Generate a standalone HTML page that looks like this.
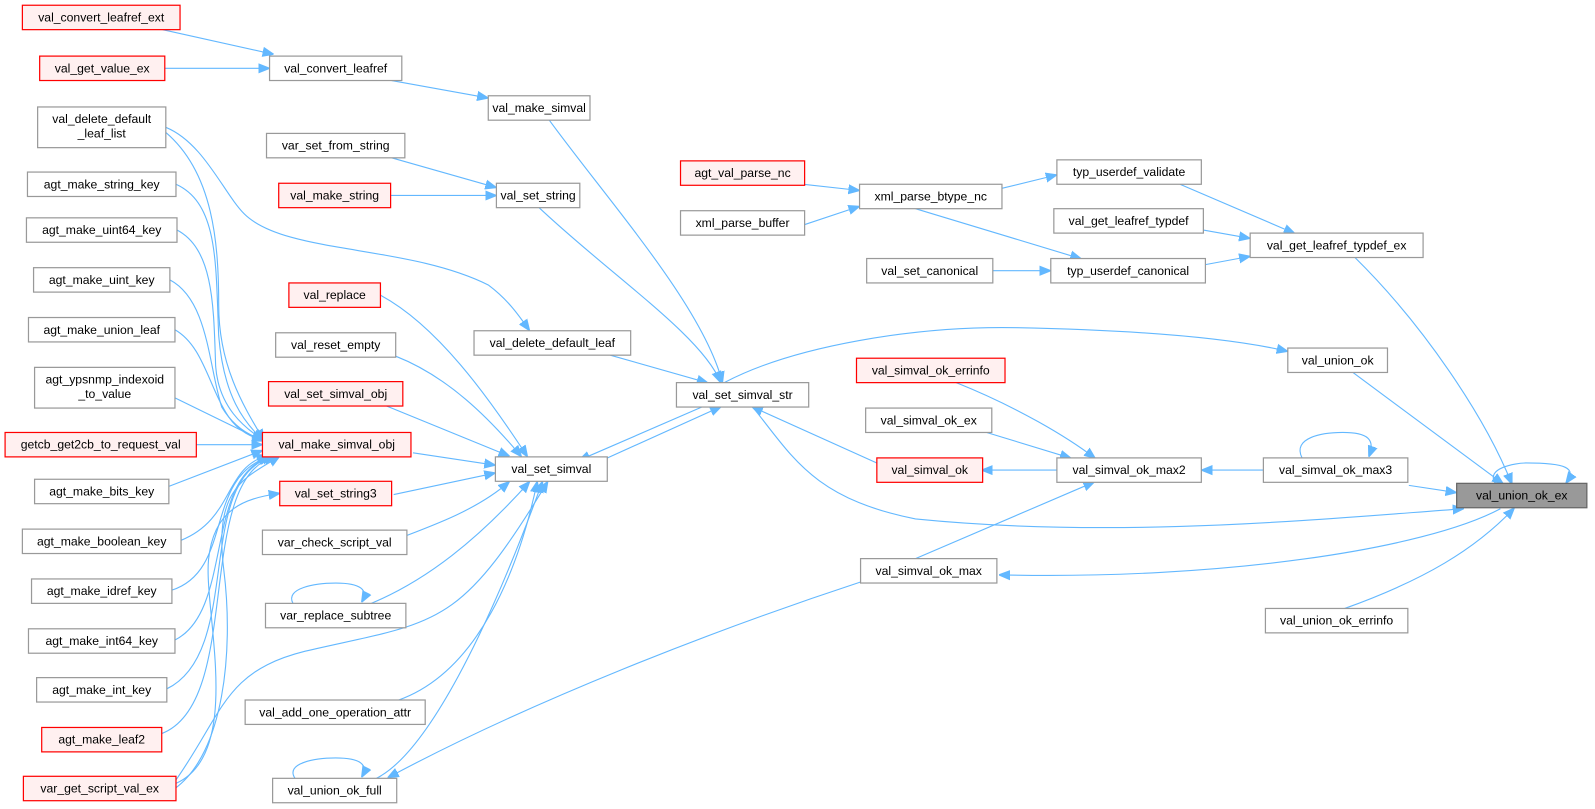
<!DOCTYPE html>
<html><head><meta charset="utf-8"><style>
html,body{margin:0;padding:0;background:#fff;}
svg{display:block}
text{font-family:"Liberation Sans",Arial,sans-serif;font-size:12px;fill:#000;text-anchor:middle}
.n{fill:#fff;stroke:#999;stroke-width:1.2}
.r{fill:#fff0f0;stroke:#f00;stroke-width:1.2}
.g{fill:#999;stroke:#666;stroke-width:1.2}
.e{fill:none;stroke:#63b8ff;stroke-width:1.1}
</style></head><body>
<svg width="1595" height="809" viewBox="0 0 1568 795" xmlns="http://www.w3.org/2000/svg">
<defs><marker id="a" viewBox="0 0 10 10" refX="9" refY="5" markerWidth="11" markerHeight="11" markerUnits="userSpaceOnUse" orient="auto"><path d="M0,1 L10,5 L0,9 z" fill="#63b8ff" stroke="#63b8ff"/></marker></defs>
<g class="e" marker-end="url(#a)">
<path d="M160,29 L268,53"/>
<path d="M162,67 L264,67"/>
<path d="M385,79 L479,96"/>
<path d="M540,118 C600,200 690,300 710,375"/>
<path d="M385,155 L487,184"/>
<path d="M384,192 L487,192"/>
<path d="M530,204 C600,270 690,330 708,375"/>
<path d="M163,125 C200,140 220,190 240,210 C280,250 400,240 480,280 C500,295 510,310 520,324"/>
<path d="M600,349 L695,376"/>
<path d="M690,400 L570,452"/>
<path d="M575,460 L708,400"/>
<path d="M374,290 C430,320 480,390 518,448"/>
<path d="M389,350 C440,370 480,410 512,448"/>
<path d="M380,399 L500,448"/>
<path d="M406,445 L486,457"/>
<path d="M387,486 L486,465"/>
<path d="M390,530 C430,515 470,500 500,474"/>
<path d="M365,593 C420,570 470,530 520,474"/>
<path d="M392,688 C470,660 510,560 528,474"/>
<path d="M370,765 C420,740 480,620 533,474"/>
<path d="M172,768 C220,700 220,660 300,640 C430,610 450,620 538,474"/>
<path d="M163,130 C210,170 215,240 215,300 C215,360 240,400 259,432"/>
<path d="M173,181 C215,200 212,260 215,330 C220,390 240,415 258,432"/>
<path d="M174,226 C210,245 210,300 212,360 C215,400 240,420 258,432"/>
<path d="M167,275 C205,295 205,360 218,400 C230,420 245,428 258,432"/>
<path d="M172,324 C200,340 205,380 225,410 C235,425 250,430 258,433"/>
<path d="M172,391 L258,433"/>
<path d="M193,437 L257,437"/>
<path d="M166,478 L257,443"/>
<path d="M178,531 C230,510 220,460 262,448"/>
<path d="M169,580 C230,560 200,470 264,449"/>
<path d="M172,629 C230,600 200,470 265,449"/>
<path d="M164,677 C240,640 190,470 268,449"/>
<path d="M159,721 C240,690 190,470 270,449"/>
<path d="M173,770 C240,740 200,600 205,550 C210,500 240,490 274,485"/>
<path d="M172,775 C220,740 230,640 220,560 C210,480 240,470 274,449"/>
<path d="M862,455 L740,400"/>
<path d="M790,181 L844,187"/>
<path d="M790,221 L844,203"/>
<path d="M985,185 L1038,172"/>
<path d="M900,205 L1062,254"/>
<path d="M975,266 L1032,266"/>
<path d="M1160,181 L1272,229"/>
<path d="M1183,226 L1228,234"/>
<path d="M1185,260 L1228,252"/>
<path d="M1332,253 C1400,320 1460,410 1486,475"/>
<path d="M1330,366 L1477,475"/>
<path d="M712,376 C780,340 900,320 1000,322 C1100,324 1200,330 1265,345"/>
<path d="M940,376 C1000,400 1050,430 1076,450"/>
<path d="M970,425 L1052,450"/>
<path d="M1039,462 L966,462"/>
<path d="M1242,462 L1182,462"/>
<path d="M1385,477 L1431,484"/>
<path d="M740,400 C780,450 800,490 900,510 C1100,530 1300,510 1438,500"/>
<path d="M1475,500 C1400,540 1200,570 983,565"/>
<path d="M900,549 L1075,474"/>
<path d="M846,572 C700,620 520,690 382,764"/>
<path d="M1322,598 C1400,570 1450,540 1488,500"/>
<path d="M1280,450 C1270,430 1300,425 1320,425 C1345,425 1352,432 1346,448"/>
<path d="M1470,475 C1460,460 1490,455 1500,455 C1540,455 1550,460 1540,474"/>
<path d="M290,765 C280,750 310,745 330,745 C355,745 362,752 356,763"/>
<path d="M288,593 C280,578 310,573 330,573 C355,573 362,580 356,591"/>
</g>
<g>
<rect class="r" x="22" y="5" width="155" height="24"/><text x="99.5" y="21">val_convert_leafref_ext</text>
<rect class="r" x="39" y="55" width="123" height="24"/><text x="100.5" y="71">val_get_value_ex</text>
<rect class="n" x="265" y="55" width="130" height="24"/><text x="330" y="71">val_convert_leafref</text>
<rect class="n" x="37" y="105" width="126" height="40"/><text x="100" y="121">val_delete_default</text><text x="100" y="135">_leaf_list</text>
<rect class="n" x="27" y="169" width="146" height="24"/><text x="100" y="185">agt_make_string_key</text>
<rect class="n" x="26" y="214" width="148" height="24"/><text x="100" y="230">agt_make_uint64_key</text>
<rect class="n" x="33" y="263" width="134" height="24"/><text x="100" y="279">agt_make_uint_key</text>
<rect class="n" x="28" y="312" width="144" height="24"/><text x="100" y="328">agt_make_union_leaf</text>
<rect class="n" x="34" y="361" width="138" height="40"/><text x="103" y="377">agt_ypsnmp_indexoid</text><text x="103" y="391">_to_value</text>
<rect class="r" x="5" y="425" width="188" height="24"/><text x="99" y="441">getcb_get2cb_to_request_val</text>
<rect class="n" x="34" y="471" width="132" height="24"/><text x="100" y="487">agt_make_bits_key</text>
<rect class="n" x="22" y="520" width="156" height="24"/><text x="100" y="536">agt_make_boolean_key</text>
<rect class="n" x="31" y="569" width="138" height="24"/><text x="100" y="585">agt_make_idref_key</text>
<rect class="n" x="28" y="618" width="144" height="24"/><text x="100" y="634">agt_make_int64_key</text>
<rect class="n" x="36" y="666" width="128" height="24"/><text x="100" y="682">agt_make_int_key</text>
<rect class="r" x="41" y="715" width="118" height="24"/><text x="100" y="731">agt_make_leaf2</text>
<rect class="r" x="23" y="763" width="150" height="24"/><text x="98" y="779">var_get_script_val_ex</text>
<rect class="n" x="480" y="94" width="100" height="24"/><text x="530" y="110">val_make_simval</text>
<rect class="n" x="262" y="131" width="136" height="24"/><text x="330" y="147">var_set_from_string</text>
<rect class="r" x="274" y="180" width="110" height="24"/><text x="329" y="196">val_make_string</text>
<rect class="n" x="488" y="180" width="82" height="24"/><text x="529" y="196">val_set_string</text>
<rect class="r" x="284" y="278" width="90" height="24"/><text x="329" y="294">val_replace</text>
<rect class="n" x="271" y="327" width="118" height="24"/><text x="330" y="343">val_reset_empty</text>
<rect class="r" x="264" y="375" width="132" height="24"/><text x="330" y="391">val_set_simval_obj</text>
<rect class="r" x="258" y="425" width="146" height="24"/><text x="331" y="441">val_make_simval_obj</text>
<rect class="r" x="275" y="473" width="110" height="24"/><text x="330" y="489">val_set_string3</text>
<rect class="n" x="258" y="521" width="142" height="24"/><text x="329" y="537">var_check_script_val</text>
<rect class="n" x="261" y="593" width="138" height="24"/><text x="330" y="609">var_replace_subtree</text>
<rect class="n" x="241" y="688" width="177" height="24"/><text x="329.5" y="704">val_add_one_operation_attr</text>
<rect class="n" x="268" y="765" width="122" height="24"/><text x="329" y="781">val_union_ok_full</text>
<rect class="n" x="466" y="325" width="154" height="24"/><text x="543" y="341">val_delete_default_leaf</text>
<rect class="n" x="487" y="449" width="110" height="24"/><text x="542" y="465">val_set_simval</text>
<rect class="n" x="665" y="376" width="130" height="24"/><text x="730" y="392">val_set_simval_str</text>
<rect class="r" x="669" y="158" width="122" height="24"/><text x="730" y="174">agt_val_parse_nc</text>
<rect class="n" x="669" y="207" width="122" height="24"/><text x="730" y="223">xml_parse_buffer</text>
<rect class="n" x="845" y="181" width="140" height="24"/><text x="915" y="197">xml_parse_btype_nc</text>
<rect class="n" x="1039" y="157" width="142" height="24"/><text x="1110" y="173">typ_userdef_validate</text>
<rect class="n" x="1036" y="205" width="147" height="24"/><text x="1109.5" y="221">val_get_leafref_typdef</text>
<rect class="n" x="852" y="254" width="124" height="24"/><text x="914" y="270">val_set_canonical</text>
<rect class="n" x="1033" y="254" width="152" height="24"/><text x="1109" y="270">typ_userdef_canonical</text>
<rect class="n" x="1229" y="229" width="170" height="24"/><text x="1314" y="245">val_get_leafref_typdef_ex</text>
<rect class="n" x="1266" y="342" width="98" height="24"/><text x="1315" y="358">val_union_ok</text>
<rect class="r" x="842" y="352" width="146" height="24"/><text x="915" y="368">val_simval_ok_errinfo</text>
<rect class="n" x="851" y="401" width="124" height="24"/><text x="913" y="417">val_simval_ok_ex</text>
<rect class="r" x="862" y="450" width="104" height="24"/><text x="914" y="466">val_simval_ok</text>
<rect class="n" x="1039" y="450" width="142" height="24"/><text x="1110" y="466">val_simval_ok_max2</text>
<rect class="n" x="1242" y="450" width="142" height="24"/><text x="1313" y="466">val_simval_ok_max3</text>
<rect class="g" x="1432" y="475" width="128" height="24"/><text x="1496" y="491">val_union_ok_ex</text>
<rect class="n" x="846" y="549" width="134" height="24"/><text x="913" y="565">val_simval_ok_max</text>
<rect class="n" x="1244" y="598" width="140" height="24"/><text x="1314" y="614">val_union_ok_errinfo</text>
</g>
</svg>
</body></html>
